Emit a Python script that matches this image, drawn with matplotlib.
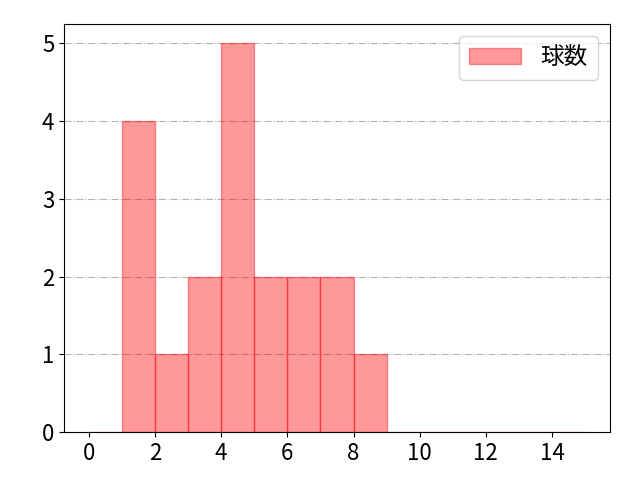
import numpy as np
import matplotlib
matplotlib.use('Agg')
import matplotlib.pyplot as plt

plt.rcParams['font.family'] = ['Noto Sans CJK JP', 'DejaVu Sans']
plt.rcParams['font.size'] = 16

# pitch counts per bin (bins of width 1 from 0 to 15)
bin_edges = list(range(0, 16))
bin_starts = [1, 2, 3, 4, 5, 6, 7, 8]
counts = [4, 1, 2, 5, 2, 2, 2, 1]

fig, ax = plt.subplots(figsize=(6.4, 4.8), dpi=100)
ax.hist(bin_starts, bins=bin_edges, weights=counts, color='red', alpha=0.4,
        edgecolor='red', linewidth=1, label='球数')
ax.grid(axis='y', linestyle='-.', color='gray', alpha=0.6)
ax.set_axisbelow(True)
ax.set_xticks(range(0, 16, 2))
ax.legend(loc='upper right', fontsize=17, handlelength=2.2, borderpad=0.45)
fig.subplots_adjust(left=0.1, right=0.953, bottom=0.1, top=0.95)
fig.savefig('out.png')
